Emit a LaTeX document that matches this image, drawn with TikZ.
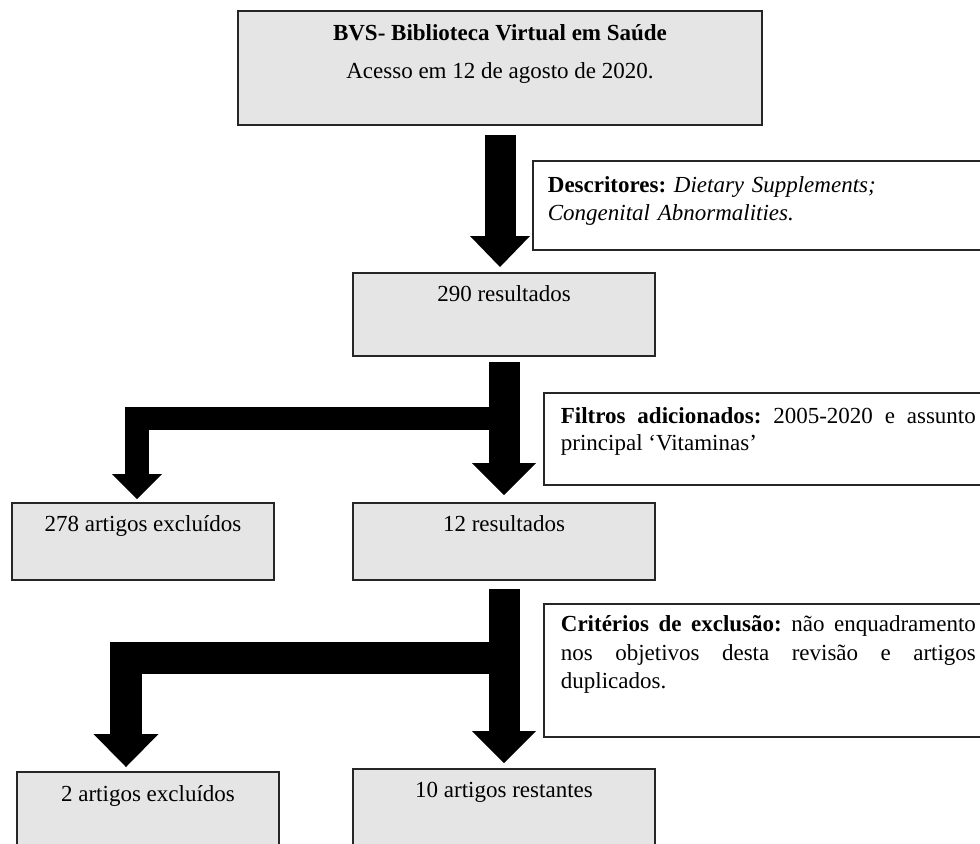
\documentclass[tikz,border=0pt]{standalone}
\usepackage{fontspec}
\setmainfont{Liberation Serif}
\usepackage{tikz}
\usetikzlibrary{arrows.meta}
\frenchspacing

\begin{document}
\begin{tikzpicture}[x=0.5pt, y=-0.5pt,
    font=\fontsize{11.5}{13.75}\selectfont,
    box/.style={draw=black!85, line width=0.9pt, fill=black!10, inner ysep=0pt, align=center, anchor=north},
    note/.style={draw=black!85, line width=0.9pt, fill=white, inner ysep=0pt, anchor=north west},
    trunk/.style={line width=15.5pt, -{Triangle[width=32pt,length=16pt,line width=0pt]}},
    branch/.style={line width=11.75pt, -{Triangle[width=25pt,length=12.5pt,line width=0pt]}}]
    \useasboundingbox (0,0) rectangle (980,843);

    \node[box, minimum width=262pt, text height=33.75pt, text depth=23.25pt] (bvs) at (500,10)
        {\textbf{BVS- Biblioteca Virtual em Saúde}\\[5.25pt]Acesso em 12 de agosto de 2020.};
    \node[note, inner xsep=7.5pt, text width=250pt, align=left, text height=16pt, text depth=28.5pt] (desc) at (532,160)
        {\textbf{Descritores:} \textit{Dietary Supplements;}\\\textit{Congenital Abnormalities.}};
    \node[box, minimum width=151pt, text height=14.25pt, text depth=27.25pt] (res1) at (504,272) {290 resultados};

    \node[note, inner xsep=8.5pt, text width=207.5pt, align=justify, text height=15.25pt, text depth=30.75pt] (filt) at (543,392)
        {\textbf{Filtros adicionados:} 2005-2020 e assunto\linebreak principal ‘Vitaminas’};
    \node[box, minimum width=131pt, text height=14.25pt, text depth=24.25pt] (ex1) at (143,502) {278 artigos excluídos};
    \node[box, minimum width=151pt, text height=14.25pt, text depth=24.25pt] (res2) at (504,502) {12 resultados};

    \node[note, inner xsep=8.5pt, text width=207.5pt, align=justify, text height=14pt, text depth=52.5pt,
        font=\fontsize{11.5}{14.25}\selectfont] (crit) at (543,603)
        {\textbf{Critérios de exclusão:} não enquadramento\linebreak nos objetivos desta revisão e artigos\linebreak duplicados.};
    \node[box, minimum width=131pt, text height=14.75pt, text depth=60pt] (ex2) at (148,771) {2 artigos excluídos};
    \node[box, minimum width=151pt, text height=14.5pt, text depth=60pt] (res3) at (504,768) {10 artigos restantes};

    \coordinate (split1) at (504,418.5);
    \coordinate (split2) at (504,658);

    \draw[trunk, -{Triangle[width=30pt,length=15.5pt,line width=0pt]}, shorten <=4.5pt, shorten >=2.5pt]
        (bvs.south) -- (bvs.south |- res1.north);
    \draw[trunk, shorten <=2.5pt, shorten >=3.5pt] (res1.south) -- (res2.north);
    \draw[branch, shorten >=1.5pt] (split1) -| ([xshift=-3pt]ex1.north);
    \draw[trunk, shorten <=4pt, shorten >=2.5pt] (res2.south) -- (res3.north);
    \draw[branch, line width=16pt, -{Triangle[width=32.5pt,length=16.5pt,line width=0pt]}, shorten >=2pt]
        (split2) -| ([xshift=-11pt]ex2.north);
\end{tikzpicture}
\end{document}
